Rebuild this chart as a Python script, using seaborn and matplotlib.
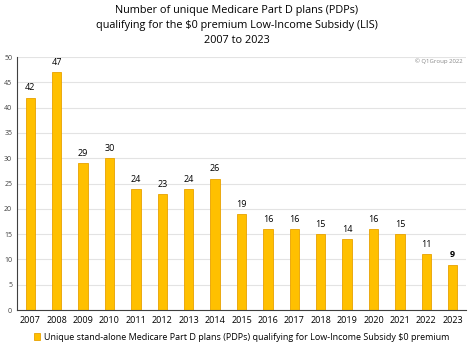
import matplotlib
matplotlib.use("Agg")
import matplotlib.pyplot as plt
import seaborn as sns
import pandas as pd

years = ["2007", "2008", "2009", "2010", "2011", "2012", "2013", "2014", "2015",
         "2016", "2017", "2018", "2019", "2020", "2021", "2022", "2023"]
plans = [42, 47, 29, 30, 24, 23, 24, 26, 19, 16, 16, 15, 14, 16, 15, 11, 9]
series_name = "Unique stand-alone Medicare Part D plans (PDPs) qualifying for Low-Income Subsidy $0 premium"

df = pd.DataFrame({"Year": years, "Plans": plans})

sns.set_style("white")
plt.rcParams["font.family"] = ["Open Sans", "DejaVu Sans"]
plt.rcParams["text.color"] = "black"

fig = plt.figure(figsize=(4.74, 3.52), dpi=100)
ax = fig.add_axes([0.036, 0.119, 0.947, 0.719])

sns.barplot(data=df, x="Year", y="Plans", color="#FFC000", saturation=1,
            width=0.36, edgecolor="#E8A200", linewidth=0.6, ax=ax,
            label=series_name)

ax.set_ylim(0, 50)
ax.set_xlim(-0.5, len(years) - 0.5)
ax.set_yticks(range(0, 51, 5))
ax.yaxis.grid(True, color="#E3E3E3", linewidth=0.8)
ax.set_axisbelow(True)
ax.set_xlabel("")
ax.set_ylabel("")

for s in ["top", "right"]:
    ax.spines[s].set_visible(False)
for s in ["left", "bottom"]:
    ax.spines[s].set_color("#404040")
    ax.spines[s].set_linewidth(0.8)

ax.tick_params(axis="y", labelsize=5, colors="#404040", length=3, width=0.6,
               direction="inout", pad=2)
ax.tick_params(axis="x", labelsize=6.5, labelcolor="black", length=0, pad=4)
# tick marks between categories
ax.set_xticks([i + 0.5 for i in range(-1, len(years))], minor=True)
ax.tick_params(axis="x", which="minor", length=4, width=0.6, direction="inout",
               color="#404040")

for i, v in enumerate(plans):
    ax.text(i, v + 1.0, str(v), ha="center", va="bottom", fontsize=6.5,
            color="black",
            fontweight="bold" if i == len(plans) - 1 else "normal")

fig.text(0.5, 0.985,
         "Number of unique Medicare Part D plans (PDPs)\n"
         "qualifying for the $0 premium Low-Income Subsidy (LIS)\n2007 to 2023",
         ha="center", va="top", fontsize=7.8, linespacing=1.5, color="black")
fig.text(0.975, 0.825, "© Q1Group 2022", ha="right", va="center",
         fontsize=4.3, color="#888888")

leg = ax.legend(loc="upper center", bbox_to_anchor=(0.5, -0.075), frameon=False,
                fontsize=6.5, handlelength=0.7, handleheight=0.9,
                handletextpad=0.4, borderaxespad=0)
for t in leg.get_texts():
    t.set_color("black")

fig.savefig("out.png", dpi=100)
